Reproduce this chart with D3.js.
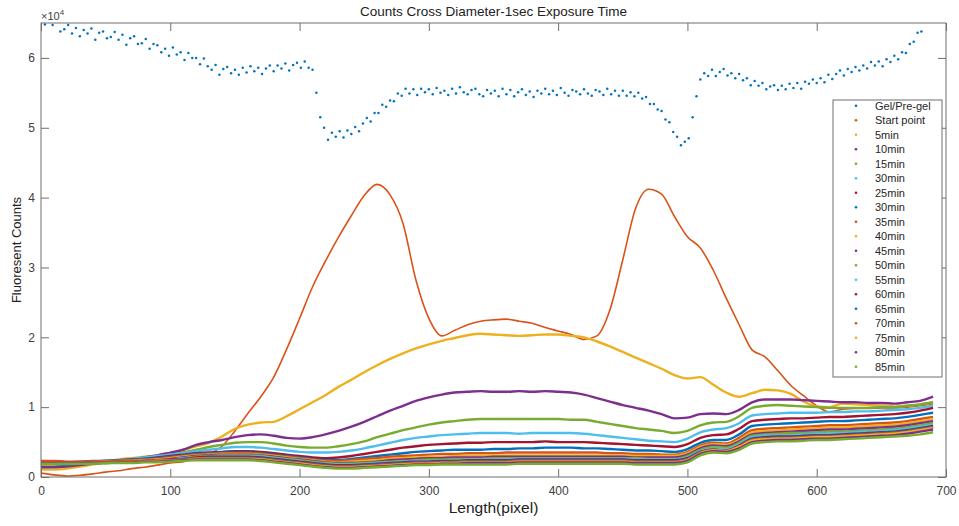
<!DOCTYPE html>
<html>
<head>
<meta charset="utf-8">
<script src="https://cdn.jsdelivr.net/npm/d3@7"></script>
<style>
  body { margin: 0; background: #fff; }
  svg { display: block; font-family: "Liberation Sans", Arial, Helvetica, sans-serif; }
</style>
</head>
<body>
<svg id="chart" width="959" height="526"></svg>
<script>
// ---- data -------------------------------------------------------------
const xTicks = [0, 100, 200, 300, 400, 500, 600, 700];
const yTicks = [0, 10000, 20000, 30000, 40000, 50000, 60000];

const legendLabels = ["Gel/Pre-gel", "Start point", "5min", "10min", "15min", "30min", "25min",
  "30min", "35min", "40min", "45min", "50min", "55min", "60min", "65min", "70min", "75min",
  "80min", "85min"];

// sample positions along the diameter (pixel index)
const gelSteps = d3.range(0, 691, 3);      // Gel/Pre-gel profile
const lengthSteps = d3.range(0, 700, 10);  // all other profiles

const gelPregel = [
  66000, 64800, 65500, 64700, 65300, 63800, 64100, 64700, 63500, 64300,
  63100, 64000, 63500, 64200, 62600, 63600, 63800, 62800, 63000, 63700,
  62600, 63300, 61900, 62800, 63100, 62000, 62100, 62700, 61300, 62000,
  61800, 60800, 61300, 60300, 61500, 60500, 60800, 59700, 60700, 60000,
  60000, 59100, 59900, 58800, 58300, 59000, 57600, 58400, 58700, 57800,
  58300, 57600, 58600, 57900, 58800, 58100, 58600, 57700, 58500, 58900,
  58100, 58900, 58500, 59200, 58200, 59000, 59300, 58600, 59500, 58600,
  58300, 55000, 51500, 50000, 48300, 49300, 48700, 49500, 48600, 49600,
  49100, 50100, 49500, 50600, 51400, 50900, 52100, 52100, 53300, 53000,
  53900, 53800, 54900, 54600, 55600, 54900, 55500, 54700, 55600, 55100,
  55500, 54800, 55700, 55000, 55300, 54700, 55600, 54900, 55800, 55100,
  54800, 55400, 55600, 54800, 54500, 55400, 54900, 55300, 54500, 55600,
  54800, 55400, 54500, 55100, 55500, 54700, 55200, 54400, 55300, 54900,
  55600, 54800, 55300, 54700, 55700, 55000, 54600, 55400, 55200, 54800,
  55500, 54900, 54600, 55400, 55200, 54700, 55600, 54800, 55300, 54600,
  55300, 54600, 55100, 54500, 55000, 54200, 54400, 53400, 53400, 52600,
  52400, 51200, 50800, 49400, 48700, 47500, 48000, 48500, 51500, 54500,
  56900, 57800, 57400, 58300, 57400, 58000, 58400, 57500, 57800, 57100,
  57700, 56800, 57100, 56100, 56700, 56000, 56400, 55500, 55900, 56100,
  55400, 56000, 55500, 56300, 55700, 56400, 55600, 56600, 56300, 56900,
  56400, 57100, 56500, 57600, 57000, 57700, 58200, 57500, 58400, 58000,
  58700, 58200, 58900, 58500, 59400, 58900, 59500, 58800, 59800, 59400,
  60300, 59800, 60800, 60700, 62000, 62300, 63600, 63800, 65200, 65900,
  66600
];

const startPoint = [
  550, 300, 150, 250, 450, 700, 900, 1200, 1400, 1700,
  2000, 2200, 2700, 3300, 4400, 6600, 9100, 11500, 14300, 18300,
  22700, 27200, 30900, 34300, 37400, 40300, 41900, 40400, 36300, 28200,
  22700, 20200, 21000, 21800, 22300, 22500, 22600, 22300, 22000, 21400,
  20900, 20400, 19700, 20200, 23900, 31100, 38500, 41200, 40500, 37300,
  34400, 32800, 29600, 25600, 21800, 18200, 17200, 15200, 13100, 11600,
  10200, 9300, 9700, 9800, 9800, 9900, 9900, 10000, 10200, 10500
];

const min5 = [
  1100, 1050, 1200, 1500, 1800, 2100, 2500, 2700, 2900, 3100,
  3400, 3900, 4400, 4900, 5800, 6900, 7500, 7800, 7900, 8700,
  9700, 10700, 11700, 12900, 13900, 15000, 16000, 16900, 17700, 18400,
  19000, 19500, 19900, 20300, 20500, 20400, 20300, 20200, 20300, 20400,
  20400, 20200, 20000, 19400, 18700, 17900, 17100, 16300, 15500, 14600,
  14100, 14300, 13200, 12100, 11500, 12000, 12500, 12400, 11900, 10800,
  10100, 10000, 10500, 10400, 10300, 10200, 10100, 10200, 10400, 10700
];

const min10 = [
  1400, 1400, 1500, 1700, 1900, 2100, 2300, 2500, 2800, 3100,
  3500, 3900, 4600, 5000, 5300, 5700, 6000, 6100, 5900, 5600,
  5500, 5700, 6100, 6600, 7200, 7900, 8700, 9500, 10200, 10900,
  11400, 11800, 12100, 12200, 12300, 12200, 12200, 12300, 12200, 12300,
  12200, 12100, 11800, 11300, 10800, 10300, 9900, 9500, 9000, 8400,
  8500, 9000, 9100, 9000, 9600, 10700, 11100, 11100, 11100, 11000,
  10900, 10800, 10700, 10700, 10600, 10600, 10500, 10700, 10900, 11500
];

const min15 = [
  1900, 1800, 1800, 1900, 2000, 2100, 2200, 2400, 2600, 2900,
  3200, 3500, 3900, 4300, 4600, 4900, 5000, 5000, 4800, 4500,
  4300, 4200, 4200, 4400, 4700, 5100, 5700, 6200, 6700, 7100,
  7500, 7800, 8000, 8200, 8300, 8300, 8300, 8300, 8300, 8300,
  8300, 8200, 8200, 7900, 7600, 7300, 7000, 6800, 6600, 6300,
  6600, 7400, 7800, 7900, 8700, 9900, 10200, 10300, 10200, 10100,
  10000, 9900, 9900, 9900, 9900, 10000, 10000, 10200, 10400, 10700
];

const min30a = [
  1800, 1900, 2000, 2100, 2200, 2300, 2400, 2600, 2800, 3000,
  3200, 3400, 3700, 3900, 4100, 4300, 4300, 4200, 4000, 3800,
  3600, 3500, 3500, 3600, 3800, 4100, 4500, 4900, 5300, 5600,
  5800, 6000, 6100, 6200, 6300, 6300, 6300, 6200, 6300, 6300,
  6300, 6300, 6200, 6000, 5800, 5600, 5400, 5200, 5100, 5000,
  5500, 6400, 6800, 7000, 7700, 8800, 9000, 9100, 9200, 9200,
  9200, 9300, 9300, 9400, 9400, 9500, 9600, 9700, 9900, 10200
];

const min25 = [
  2000, 2000, 2000, 2100, 2200, 2300, 2400, 2500, 2600, 2800,
  3000, 3200, 3400, 3500, 3600, 3700, 3700, 3600, 3400, 3200,
  3000, 2800, 2700, 2800, 3000, 3300, 3600, 3900, 4200, 4400,
  4600, 4700, 4800, 4900, 4900, 5000, 5000, 5000, 5000, 5100,
  5000, 5000, 5000, 4900, 4800, 4700, 4600, 4500, 4400, 4300,
  4700, 5600, 6000, 6100, 6900, 8000, 8200, 8300, 8400, 8400,
  8500, 8600, 8600, 8700, 8800, 8900, 9000, 9200, 9500, 9900
];

const min30b = [
  2100, 2100, 2100, 2200, 2300, 2300, 2400, 2500, 2600, 2700,
  2900, 3100, 3300, 3400, 3500, 3500, 3500, 3400, 3200, 3000,
  2800, 2600, 2400, 2400, 2600, 2800, 3000, 3200, 3400, 3600,
  3700, 3800, 3900, 3900, 3900, 4000, 4000, 4100, 4100, 4200,
  4200, 4200, 4100, 4100, 4000, 3900, 3800, 3800, 3700, 3600,
  4000, 4900, 5300, 5300, 6100, 7300, 7500, 7600, 7700, 7800,
  7900, 8000, 8000, 8100, 8200, 8300, 8400, 8600, 8900, 9200
];

const min35 = [
  2200, 2200, 2100, 2100, 2200, 2300, 2300, 2400, 2500, 2600,
  2800, 3000, 3200, 3300, 3400, 3400, 3400, 3300, 3100, 2900,
  2700, 2500, 2300, 2300, 2400, 2600, 2700, 2900, 3000, 3100,
  3200, 3300, 3300, 3400, 3400, 3400, 3500, 3500, 3500, 3500,
  3500, 3500, 3500, 3500, 3400, 3400, 3300, 3300, 3200, 3200,
  3600, 4500, 4900, 4800, 5600, 6700, 6900, 7000, 7100, 7200,
  7300, 7400, 7400, 7500, 7600, 7700, 7800, 8000, 8300, 8600
];

const min40 = [
  2300, 2200, 2100, 2100, 2100, 2200, 2300, 2300, 2400, 2500,
  2700, 2900, 3100, 3200, 3300, 3300, 3300, 3200, 3000, 2800,
  2600, 2400, 2200, 2100, 2200, 2300, 2400, 2600, 2700, 2800,
  2900, 2900, 3000, 3000, 3000, 3100, 3100, 3100, 3100, 3100,
  3100, 3100, 3100, 3100, 3100, 3000, 3000, 3000, 3000, 3000,
  3400, 4300, 4700, 4600, 5300, 6400, 6600, 6700, 6800, 6900,
  7000, 7100, 7100, 7200, 7300, 7400, 7500, 7700, 8000, 8300
];

const min45 = [
  2000, 2000, 2000, 2000, 2100, 2100, 2200, 2200, 2300, 2400,
  2600, 2800, 3000, 3100, 3200, 3200, 3200, 3100, 2900, 2700,
  2500, 2300, 2100, 2000, 2000, 2100, 2200, 2400, 2500, 2600,
  2700, 2700, 2800, 2800, 2800, 2900, 2900, 2900, 2900, 2900,
  2900, 2900, 2900, 2900, 2900, 2900, 2800, 2800, 2800, 2800,
  3200, 4100, 4500, 4400, 5100, 6100, 6300, 6400, 6500, 6600,
  6700, 6800, 6800, 6900, 7000, 7100, 7200, 7400, 7700, 8000
];

const min50 = [
  2100, 2000, 1900, 1900, 2000, 2000, 2100, 2100, 2200, 2300,
  2500, 2700, 2900, 3000, 3100, 3100, 3100, 3000, 2800, 2600,
  2400, 2200, 2000, 1900, 1900, 2000, 2100, 2200, 2300, 2400,
  2500, 2500, 2600, 2600, 2600, 2700, 2700, 2700, 2700, 2700,
  2700, 2700, 2700, 2700, 2700, 2700, 2700, 2600, 2600, 2600,
  3000, 3900, 4300, 4200, 4900, 5900, 6100, 6200, 6300, 6300,
  6400, 6500, 6500, 6600, 6700, 6800, 6900, 7100, 7400, 7700
];

const min55 = [
  1900, 1900, 1900, 2000, 2000, 2100, 2100, 2200, 2300, 2400,
  2500, 2700, 2800, 2900, 3000, 3000, 3000, 2900, 2700, 2500,
  2300, 2100, 1900, 1800, 1800, 1900, 2000, 2100, 2200, 2300,
  2300, 2400, 2400, 2500, 2500, 2500, 2500, 2600, 2600, 2600,
  2600, 2600, 2600, 2600, 2600, 2600, 2500, 2500, 2500, 2500,
  2800, 3700, 4100, 4000, 4700, 5700, 5900, 6000, 6000, 6100,
  6200, 6200, 6300, 6400, 6500, 6600, 6700, 6900, 7200, 7500
];

const min60 = [
  2200, 2200, 2100, 2100, 2100, 2100, 2200, 2200, 2300, 2400,
  2500, 2600, 2800, 2900, 2900, 2900, 2900, 2800, 2600, 2400,
  2200, 2000, 1800, 1700, 1700, 1800, 1900, 2000, 2100, 2200,
  2200, 2300, 2300, 2400, 2400, 2400, 2400, 2500, 2500, 2500,
  2500, 2500, 2500, 2500, 2500, 2500, 2400, 2400, 2400, 2400,
  2700, 3600, 3900, 3800, 4500, 5500, 5700, 5800, 5800, 5900,
  6000, 6000, 6100, 6200, 6300, 6400, 6500, 6700, 7000, 7300
];

const min65 = [
  1700, 1700, 1800, 1900, 2000, 2000, 2100, 2200, 2200, 2300,
  2400, 2600, 2700, 2800, 2800, 2800, 2800, 2700, 2500, 2300,
  2100, 1900, 1700, 1600, 1600, 1700, 1800, 1900, 2000, 2100,
  2100, 2200, 2200, 2300, 2300, 2300, 2300, 2400, 2400, 2400,
  2400, 2400, 2400, 2400, 2400, 2400, 2300, 2300, 2300, 2300,
  2600, 3600, 3900, 3800, 4400, 5400, 5600, 5700, 5700, 5800,
  5900, 5900, 6000, 6100, 6200, 6300, 6400, 6600, 6900, 7200
];

const min70 = [
  2300, 2300, 2200, 2200, 2200, 2200, 2200, 2300, 2300, 2400,
  2400, 2500, 2700, 2700, 2700, 2700, 2700, 2600, 2400, 2200,
  2000, 1800, 1600, 1500, 1500, 1600, 1700, 1800, 1900, 2000,
  2000, 2100, 2100, 2200, 2200, 2200, 2200, 2300, 2300, 2300,
  2300, 2300, 2300, 2300, 2300, 2300, 2200, 2200, 2200, 2200,
  2500, 3500, 3900, 3800, 4400, 5300, 5500, 5600, 5600, 5700,
  5800, 5800, 5900, 6000, 6100, 6200, 6300, 6500, 6800, 7100
];

const min75 = [
  1800, 1800, 1900, 1900, 2000, 2000, 2100, 2100, 2200, 2300,
  2300, 2400, 2600, 2600, 2600, 2600, 2600, 2500, 2300, 2100,
  1900, 1700, 1500, 1400, 1400, 1500, 1600, 1700, 1800, 1900,
  1900, 2000, 2000, 2100, 2100, 2100, 2100, 2200, 2200, 2200,
  2200, 2200, 2200, 2200, 2200, 2200, 2100, 2100, 2100, 2100,
  2400, 3400, 3800, 3700, 4300, 5200, 5400, 5500, 5500, 5600,
  5700, 5700, 5800, 5900, 6000, 6100, 6200, 6400, 6700, 7000
];

const min80 = [
  2000, 2000, 2000, 2000, 2000, 2100, 2100, 2100, 2200, 2200,
  2300, 2400, 2500, 2500, 2500, 2500, 2500, 2400, 2200, 2000,
  1800, 1600, 1400, 1300, 1300, 1400, 1500, 1600, 1700, 1800,
  1800, 1900, 1900, 2000, 2000, 2000, 2000, 2100, 2100, 2100,
  2100, 2100, 2100, 2100, 2100, 2100, 2000, 2000, 2000, 2000,
  2300, 3300, 3700, 3600, 4100, 5000, 5200, 5300, 5300, 5400,
  5500, 5500, 5600, 5700, 5800, 5900, 6000, 6200, 6500, 6800
];

const min85 = [
  1900, 1900, 1900, 1900, 1900, 2000, 2000, 2000, 2100, 2100,
  2200, 2300, 2400, 2400, 2400, 2400, 2400, 2300, 2100, 1900,
  1700, 1500, 1300, 1200, 1200, 1300, 1400, 1500, 1600, 1700,
  1700, 1800, 1800, 1800, 1800, 1800, 1800, 1900, 1900, 1900,
  1900, 1900, 1900, 1900, 1900, 1900, 1800, 1800, 1800, 1800,
  2100, 3100, 3500, 3400, 3900, 4800, 5000, 5100, 5100, 5200,
  5300, 5300, 5400, 5500, 5600, 5700, 5800, 5900, 6100, 6400
];

// profiles after the gel, in legend order
const profiles = [startPoint, min5, min10, min15, min30a, min25, min30b, min35, min40,
  min45, min50, min55, min60, min65, min70, min75, min80, min85];

// default MATLAB line colour order
const colorOrder = ["#0072BD", "#D95319", "#EDB120", "#7E2F8E", "#77AC30", "#4DBEEE", "#A2142F"];
const colorOf = i => colorOrder[i % colorOrder.length];

// ---- layout -----------------------------------------------------------
const svg = d3.select("#chart");
const plot = { left: 41, right: 946, top: 23, bottom: 477 };

const x = d3.scaleLinear().domain([0, 700]).range([plot.left, plot.right]);
const y = d3.scaleLinear().domain([0, 65000]).range([plot.bottom, plot.top]);

svg.append("rect").attr("width", 959).attr("height", 526).attr("fill", "#fff");

svg.append("clipPath").attr("id", "plot-clip")
  .append("rect")
  .attr("x", plot.left).attr("y", plot.top)
  .attr("width", plot.right - plot.left).attr("height", plot.bottom - plot.top);

const marks = svg.append("g").attr("clip-path", "url(#plot-clip)");

// gel / pre-gel profile as dot markers
marks.append("g").selectAll("circle")
  .data(gelPregel)
  .join("circle")
  .attr("cx", (d, i) => x(gelSteps[i]))
  .attr("cy", d => y(d))
  .attr("r", 1.25)
  .attr("fill", colorOf(0));

// remaining profiles as dense traces
const line = d3.line()
  .x((d, i) => x(lengthSteps[i]))
  .y(d => y(d))
  .curve(d3.curveMonotoneX);

profiles.forEach((values, k) => {
  marks.append("path")
    .datum(values)
    .attr("fill", "none")
    .attr("stroke", colorOf(k + 1))
    .attr("stroke-width", k === 0 ? 1.6 : 2.4)
    .attr("stroke-linejoin", "round")
    .attr("d", line);
});

// ---- axes -------------------------------------------------------------
const axisColor = "#6f6f6f";
const labelColor = "#404040";

function styleAxis(g) {
  g.select(".domain").remove();
  g.selectAll(".tick line").attr("stroke", axisColor);
  g.selectAll(".tick text").attr("fill", labelColor).attr("font-size", 12)
    .attr("font-family", "Liberation Sans, Arial, sans-serif");
}

svg.append("g")
  .attr("transform", `translate(0,${plot.bottom})`)
  .call(d3.axisBottom(x).tickValues(xTicks).tickSize(-8).tickPadding(9).tickFormat(d3.format("d")))
  .call(styleAxis);

svg.append("g")
  .attr("transform", `translate(0,${plot.top})`)
  .call(d3.axisTop(x).tickValues(xTicks).tickSize(-8).tickFormat(""))
  .call(styleAxis);

svg.append("g")
  .attr("transform", `translate(${plot.left},0)`)
  .call(d3.axisLeft(y).tickValues(yTicks).tickSize(-8).tickPadding(6).tickFormat(d => d / 10000))
  .call(styleAxis);

svg.append("g")
  .attr("transform", `translate(${plot.right},0)`)
  .call(d3.axisRight(y).tickValues(yTicks).tickSize(-8).tickFormat(""))
  .call(styleAxis);

// axes box
svg.append("rect")
  .attr("x", plot.left).attr("y", plot.top)
  .attr("width", plot.right - plot.left).attr("height", plot.bottom - plot.top)
  .attr("fill", "none").attr("stroke", axisColor).attr("stroke-width", 1);

// exponent marker
const expo = svg.append("text")
  .attr("x", plot.left).attr("y", 20)
  .attr("fill", labelColor).attr("font-size", 11);
expo.append("tspan").text("\u00d710");
expo.append("tspan").attr("dy", -5).attr("font-size", 8).text("4");

// ---- titles -----------------------------------------------------------
svg.append("text")
  .attr("x", (plot.left + plot.right) / 2).attr("y", 16)
  .attr("text-anchor", "middle").attr("font-size", 13.5).attr("fill", "#222")
  .text("Counts Cross Diameter-1sec Exposure Time");

svg.append("text")
  .attr("x", (plot.left + plot.right) / 2).attr("y", 513)
  .attr("text-anchor", "middle").attr("font-size", 15.5).attr("fill", "#222")
  .text("Length(pixel)");

svg.append("text")
  .attr("transform", `translate(21,${(plot.top + plot.bottom) / 2}) rotate(-90)`)
  .attr("text-anchor", "middle").attr("font-size", 13).attr("fill", "#222")
  .text("Fluoresent Counts");

// ---- legend -----------------------------------------------------------
const legend = svg.append("g");
legend.append("rect")
  .attr("x", 833).attr("y", 100).attr("width", 109).attr("height", 277)
  .attr("fill", "#fff").attr("stroke", axisColor).attr("stroke-width", 1);

const rowY = i => 105.7 + i * 14.5;
legendLabels.forEach((label, i) => {
  legend.append("circle")
    .attr("cx", 856).attr("cy", rowY(i)).attr("r", 1.3)
    .attr("fill", colorOf(i));
  legend.append("text")
    .attr("x", 875).attr("y", rowY(i) + 4)
    .attr("font-size", 11).attr("fill", "#262626")
    .text(label);
});
</script>
</body>
</html>
